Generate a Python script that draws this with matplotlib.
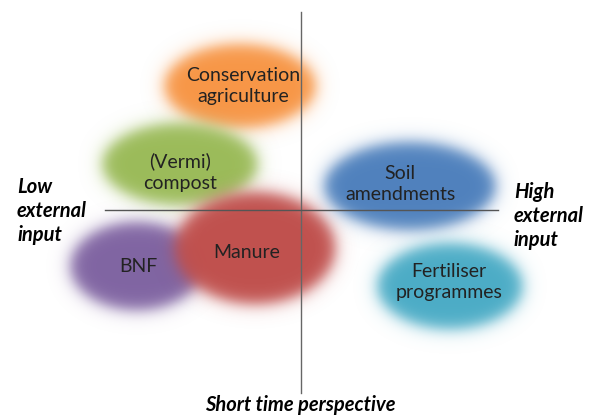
import numpy as np
import matplotlib.pyplot as plt

# ellipses (pixel units of the original picture, y pointing down)
names = ["Conservation", "Vermi", "BNF", "Manure", "Soil", "Fertiliser"]
cx = [240, 180, 137, 255, 410, 450]
cy = [86, 164, 266, 248, 186, 286]
widths = [150, 154, 132, 160, 170, 144]
heights = [84, 82, 88, 112, 88, 86]
colors = ["#F79646", "#9BBB59", "#8064A2", "#C0504D", "#4F81BD", "#4BACC6"]

labels = ["Conservation\nagriculture", "(Vermi)\ncompost", "BNF", "Manure",
          "Soil\namendments", "Fertiliser\nprogrammes"]
lx = [243, 180, 138, 247, 400, 449]
ly = [86, 172, 266, 252, 184, 282]

axis_labels = ["Low\nexternal\ninput", "High\nexternal\ninput",
               "Short time perspective"]

plt.rcParams['font.family'] = ['Lato', 'DejaVu Sans']

W, H = 589, 416
fig = plt.figure(figsize=(W / 100, H / 100), dpi=100)
ax = fig.add_axes([0, 0, 1, 1])

# blurred blobs: alpha falls off smoothly across the ellipse border
gx, gy = np.meshgrid(np.arange(W) + 0.5, np.arange(H) + 0.5)
for i in range(len(names)):
    a, b = widths[i] / 2, heights[i] / 2
    dx, dy = gx - cx[i], gy - cy[i]
    r = np.sqrt((dx / a) ** 2 + (dy / b) ** 2) + 1e-9
    grad = np.sqrt((dx / a ** 2) ** 2 + (dy / b ** 2) ** 2) / r
    d = (r - 1) / grad
    alpha = 1 / (1 + np.exp(d / 4.5))
    rgba = np.zeros((H, W, 4))
    rgba[..., :3] = plt.matplotlib.colors.to_rgb(colors[i])
    rgba[..., 3] = alpha
    ax.imshow(rgba, extent=(0, W, H, 0), interpolation="bilinear",
              zorder=1 + i, aspect="auto")
ax.set_xlim(0, W)
ax.set_ylim(H, 0)
ax.axis("off")

# the two axes of the diagram
ax.plot([301, 301], [12, 393], color="#666666", lw=1.0, zorder=10)
ax.plot([105, 498], [210, 210], color="#555555", lw=1.0, zorder=10)

for t, x, y in zip(labels, lx, ly):
    ax.text(x, y, t, ha="center", va="center", fontsize=14, color="#222222",
            linespacing=1.3, zorder=20)

ax.text(17, 211, axis_labels[0], ha="left", va="center", fontsize=14.5,
        fontweight="bold", fontstyle="italic", linespacing=1.28, zorder=20)
ax.text(514, 216, axis_labels[1], ha="left", va="center", fontsize=14.5,
        fontweight="bold", fontstyle="italic", linespacing=1.28, zorder=20)
ax.text(300, 405, axis_labels[2], ha="center", va="center", fontsize=14.5,
        fontweight="bold", fontstyle="italic", zorder=20)

fig.savefig("out.png", dpi=100)
